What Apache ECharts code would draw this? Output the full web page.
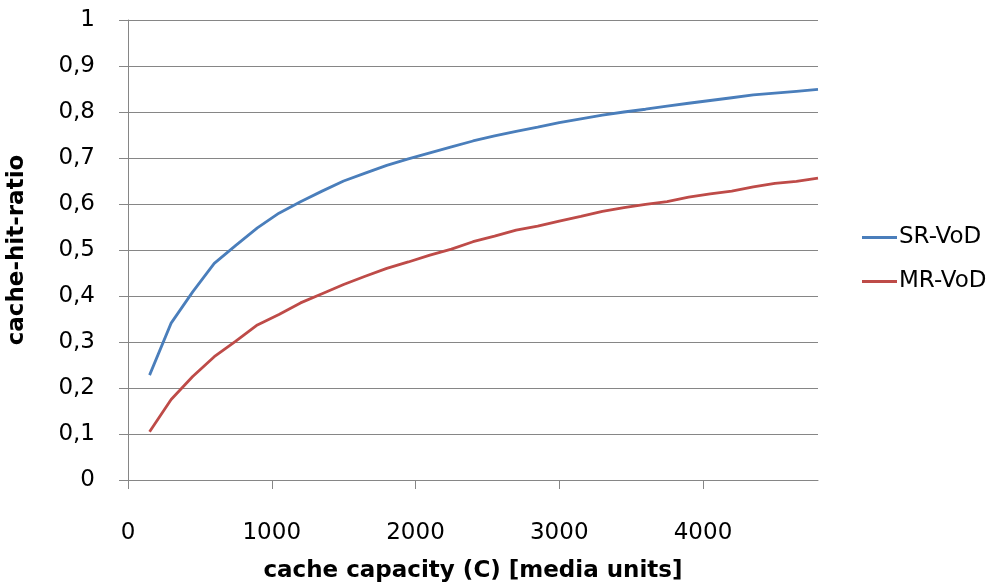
<!DOCTYPE html>
<html>
<head>
<meta charset="utf-8">
<script src="https://cdn.jsdelivr.net/npm/echarts@6/dist/echarts.min.js"></script>
<style>
    html, body {margin: 0; padding: 0; background: #fff;}
    #chart {width: 1007px; height: 584px;}
</style>
</head>
<body>
<div id="chart"></div>
<script>
// cache capacity (media units)
const capacity = [150, 300, 450, 600, 750, 900, 1050, 1200, 1350, 1500, 1650, 1800, 1950, 2100, 2250, 2400,
    2550, 2700, 2850, 3000, 3150, 3300, 3450, 3600, 3750, 3900, 4050, 4200, 4350, 4500, 4650, 4800];
const srVod = [0.228, 0.341, 0.409, 0.471, 0.51, 0.548, 0.58, 0.605, 0.628, 0.65, 0.667, 0.684, 0.698, 0.711, 0.724, 0.737,
    0.748, 0.758, 0.767, 0.777, 0.785, 0.793, 0.8, 0.806, 0.813, 0.819, 0.825, 0.831, 0.837, 0.841, 0.845, 0.849];
const mrVod = [0.105, 0.175, 0.225, 0.268, 0.302, 0.337, 0.36, 0.385, 0.405, 0.425, 0.443, 0.46, 0.474, 0.489, 0.502, 0.518,
    0.53, 0.543, 0.552, 0.563, 0.573, 0.584, 0.592, 0.599, 0.605, 0.615, 0.622, 0.628, 0.637, 0.645, 0.649, 0.656];
const xTicks = [0, 1000, 2000, 3000, 4000];

const font = "'DejaVu Sans', sans-serif";
const chart = echarts.init(document.getElementById("chart"));

const pairs = (ys) => capacity.map((x, i) => [x, ys[i]]);

chart.setOption({
    animation: false,
    textStyle: {fontFamily: font},
    grid: {left: 128, right: 189, top: 20, bottom: 104, outerBoundsMode: "none", containLabel: false},
    legend: {
        orient: "vertical",
        left: 857,
        top: 221,
        itemWidth: 35,
        itemHeight: 3,
        itemGap: 21,
        icon: "rect",
        textStyle: {fontSize: 23, color: "#000", fontFamily: font, padding: [0, 0, 0, -3]},
        data: ["SR-VoD", "MR-VoD"]
    },
    xAxis: {
        type: "value",
        min: 0,
        max: 4800,
        interval: 1000,
        name: "cache capacity (C) [media units]",
        nameLocation: "middle",
        nameGap: 80,
        nameTextStyle: {fontSize: 23, fontWeight: "bold", color: "#000", fontFamily: font},
        axisLine: {show: true, lineStyle: {color: "#868686"}},
        axisTick: {show: true, length: 9, lineStyle: {color: "#868686"}, customValues: xTicks},
        axisLabel: {fontSize: 23, color: "#000", margin: 42, customValues: xTicks, formatter: (v) => String(v)},
        splitLine: {show: false}
    },
    yAxis: {
        type: "value",
        min: 0,
        max: 1,
        interval: 0.1,
        name: "cache-hit-ratio",
        nameLocation: "middle",
        nameGap: 99,
        nameTextStyle: {fontSize: 23, fontWeight: "bold", color: "#000", fontFamily: font},
        axisLine: {show: true, lineStyle: {color: "#868686"}},
        axisTick: {show: true, length: 9, lineStyle: {color: "#868686"}},
        axisLabel: {
            fontSize: 23,
            color: "#000",
            margin: 33,
            formatter: (v) => String(Math.round(v * 10) / 10).replace(".", ",")
        },
        splitLine: {show: true, lineStyle: {color: "#868686", width: 1}}
    },
    series: [
        {
            name: "SR-VoD",
            type: "line",
            data: pairs(srVod),
            showSymbol: false,
            color: "#4A7EBB",
            lineStyle: {width: 2.8, color: "#4A7EBB"}
        },
        {
            name: "MR-VoD",
            type: "line",
            data: pairs(mrVod),
            showSymbol: false,
            color: "#BE4B48",
            lineStyle: {width: 2.8, color: "#BE4B48"}
        }
    ]
});
</script>
</body>
</html>
